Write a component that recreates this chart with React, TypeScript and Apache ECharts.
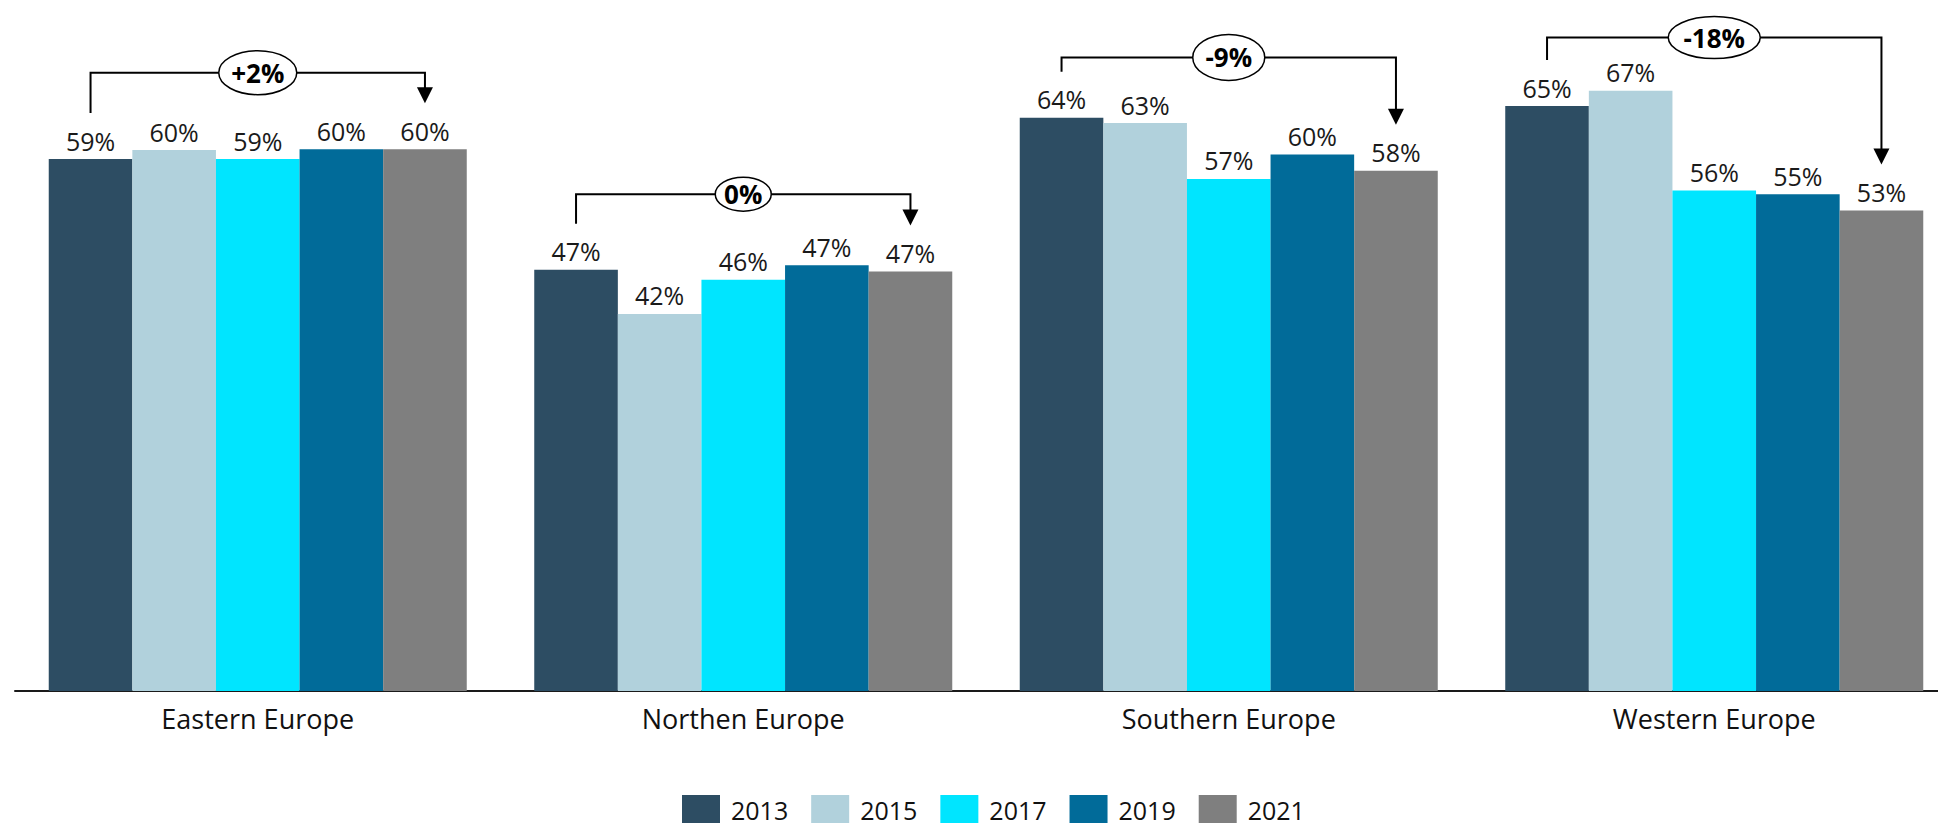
import React, { useEffect, useRef } from "react";
import * as echarts from "echarts";

const categories = ["Eastern Europe", "Northen Europe", "Southern Europe", "Western Europe"];
const years = ["2013", "2015", "2017", "2019", "2021"];
const v2013 = [59.1, 46.8, 63.7, 65.0];
const v2015 = [60.1, 41.9, 63.1, 66.7];
const v2017 = [59.1, 45.7, 56.9, 55.6];
const v2019 = [60.2, 47.3, 59.6, 55.2];
const v2021 = [60.2, 46.6, 57.8, 53.4];
const changeLabels = ["+2%", "0%", "-9%", "-18%"];
const bracketLevels = [68.7, 55.2, 70.4, 72.6];

const colors = ["#2D4D63", "#B1D1DC", "#00E5FF", "#016B99", "#7F7F7F"];
const ellipseRx = [39, 28, 36, 46];
const ellipseRy = [22, 17, 23, 21];
const GAP = 0.139;
const FONT = "'Open Sans', 'Liberation Sans', sans-serif";

export default function App() {
  const ref = useRef<HTMLDivElement>(null);
  useEffect(() => {
    if (!ref.current) return;
    const chart = echarts.init(ref.current, null, { renderer: "svg" });
    const seriesValues = [v2013, v2015, v2017, v2019, v2021];
    const bars = years.map((y, i) => ({
      name: y,
      type: "bar",
      barGap: "0%",
      barCategoryGap: GAP * 100 + "%",
      itemStyle: { color: colors[i] },
      label: {
        show: true,
        position: "top",
        distance: 6,
        fontSize: 25,
        fontFamily: FONT,
        color: "#1a1a1a",
        formatter: (p: any) => Math.round(p.value) + "%",
      },
      data: seriesValues[i],
    }));
    const bracketData = categories.map((c, i) => [i, v2013[i], v2021[i], bracketLevels[i]]);
    const option: any = {
      animation: false,
      grid: { left: 15, top: 16, width: 1942, height: 675 },
      legend: {
        data: years,
        left: 677,
        top: 790,
        itemWidth: 38,
        itemHeight: 30,
        itemGap: 23,
        icon: "rect",
        textStyle: { fontSize: 25, lineHeight: 22, fontFamily: FONT, color: "#111", padding: [0, 0, 0, 6] },
      },
      xAxis: {
        type: "category",
        data: categories,
        axisLine: { lineStyle: { color: "#1a1a1a", width: 2 } },
        axisTick: { show: false },
        axisLabel: { fontSize: 27, fontFamily: FONT, color: "#111", margin: 14 },
      },
      yAxis: { type: "value", min: 0, max: 75, show: false, splitLine: { show: false } },
      series: [
        ...bars,
        {
          name: "change",
          type: "custom",
          z: 10,
          encode: { x: 0, y: [1, 2, 3] },
          data: bracketData,
          renderItem: (params: any, api: any) => {
            const i = params.dataIndex;
            const cat = api.value(0);
            const band = api.size([1, 0])[0];
            const bw = (band * (1 - GAP)) / 5;
            const pFirst = api.coord([cat, api.value(1)]);
            const pLast = api.coord([cat, api.value(2)]);
            const pLevel = api.coord([cat, api.value(3)]);
            const cx = pLevel[0];
            const x1 = cx - 2 * bw;
            const x2 = cx + 2 * bw;
            const y1 = pFirst[1] - 46;
            const y2 = pLast[1] - 46;
            const yl = pLevel[1];
            return {
              type: "group",
              children: [
                {
                  type: "polyline",
                  shape: { points: [[x1, y1], [x1, yl], [x2, yl], [x2, y2 - 15]] },
                  style: { stroke: "#000", lineWidth: 2, fill: null },
                },
                {
                  type: "polygon",
                  shape: { points: [[x2 - 8, y2 - 16], [x2 + 8, y2 - 16], [x2, y2]] },
                  style: { fill: "#000" },
                },
                {
                  type: "ellipse",
                  shape: { cx: cx, cy: yl, rx: ellipseRx[i], ry: ellipseRy[i] },
                  style: { fill: "#fff", stroke: "#000", lineWidth: 1.5 },
                },
                {
                  type: "text",
                  x: cx,
                  y: yl,
                  style: {
                    text: changeLabels[i],
                    fontSize: 26,
                    fontWeight: "bold",
                    fontFamily: FONT,
                    fill: "#000",
                    align: "center",
                    verticalAlign: "middle",
                  },
                },
              ],
            };
          },
        },
      ],
    };
    chart.setOption(option);
    return () => chart.dispose();
  }, []);
  return (
    <div
      style={{ position: "absolute", left: 0, top: 0, width: 1938, height: 823, overflow: "hidden", background: "#fff" }}
    >
      <div ref={ref} style={{ width: 1960, height: 823 }} />
    </div>
  );
}
